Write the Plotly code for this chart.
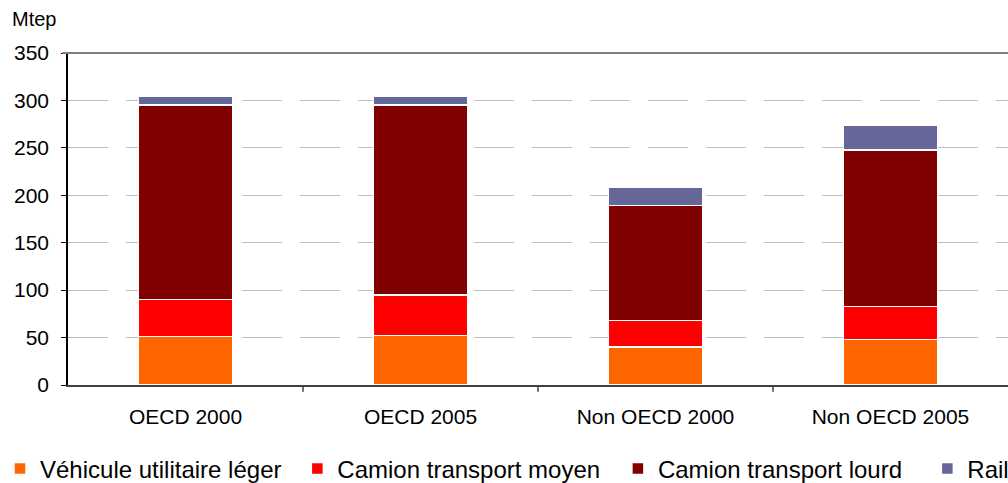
import plotly.graph_objects as go

# Categories and series (Mtep)
categories = ["OECD 2000", "OECD 2005", "Non OECD 2000", "Non OECD 2005"]
vul = [51, 52, 40, 48]          # Véhicule utilitaire léger
camion_moyen = [39, 43, 28, 35]  # Camion transport moyen
camion_lourd = [205, 200, 121, 165]  # Camion transport lourd
rail = [9, 9, 20, 26]

series = [
    ("Véhicule utilitaire léger", vul, "#FF6600"),
    ("Camion transport moyen", camion_moyen, "#FF0000"),
    ("Camion transport lourd", camion_lourd, "#800000"),
    ("Rail", rail, "#666699"),
]

# one legend box per series so each entry sits where the original has it
legend_ids = ["legend", "legend2", "legend3", "legend4"]
legend_x = [-0.009, 0.295, 0.613, 0.92]

fig = go.Figure()
for (name, vals, color), lid in zip(series, legend_ids):
    fig.add_trace(go.Bar(
        x=categories, y=vals, name=name, legend=lid,
        marker=dict(color=color, line=dict(color="white", width=1.5)),
        width=0.4,
    ))

font_family = "Liberation Sans, Arial, sans-serif"

legend_common = dict(
    orientation="h", xanchor="left", xref="container",
    yref="container", y=0.029, yanchor="middle",
    font=dict(size=24), itemclick=False, bgcolor="rgba(0,0,0,0)",
)

layout_legends = {}
for lid, lx in zip(legend_ids, legend_x):
    layout_legends[lid] = dict(legend_common, x=lx)

fig.update_layout(
    barmode="stack",
    width=1008, height=483,
    margin=dict(l=68, r=0, t=53, b=98, autoexpand=False),
    paper_bgcolor="white", plot_bgcolor="white",
    font=dict(family=font_family, size=21, color="black"),
    showlegend=True,
    xaxis=dict(
        showline=True, linecolor="#404040", linewidth=2,
        ticks="", showgrid=False,
        tickfont=dict(size=21), ticklabelstandoff=12,
    ),
    yaxis=dict(
        range=[0, 350], dtick=50, tick0=0,
        showline=True, linecolor="black", linewidth=1.5,
        ticks="outside", ticklen=5, tickcolor="black",
        showgrid=True, gridcolor="#BFBFBF", gridwidth=1.2,
        griddash="40px,18px",
        tickfont=dict(size=21), ticklabelstandoff=8,
        zeroline=False,
    ),
    annotations=[dict(
        text="Mtep", xref="paper", yref="paper", x=-0.062, y=1.064,
        xanchor="left", yanchor="bottom", showarrow=False,
        font=dict(size=20),
    )],
    shapes=[dict(
        type="line", xref="paper", yref="paper", x0=-0.006, x1=1, y0=1, y1=1,
        line=dict(color="#7F7F7F", width=2),
    )],
    **layout_legends,
)

# Tick marks between categories on the x-axis
for b in [0.5, 1.5, 2.5]:
    fig.add_shape(type="line", xref="x", yref="paper", x0=b, x1=b, y0=0, y1=-0.02,
                  line=dict(color="#404040", width=1.5))

fig.write_html("out.html", config={"displayModeBar": False},
               post_script="document.body.style.margin='0';")
